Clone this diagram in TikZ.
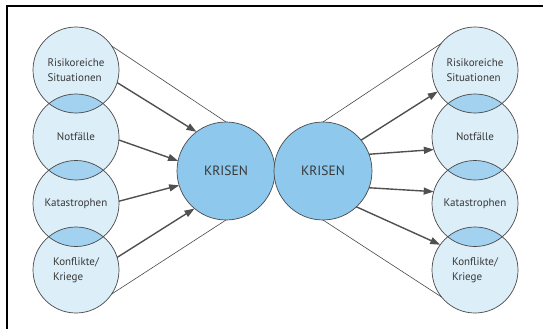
\documentclass[tikz,border=0pt]{standalone}
\usepackage{fontspec}
\setmainfont{PT Sans}
\usetikzlibrary{arrows.meta}
\definecolor{smallfill}{HTML}{DCEEF8}
\definecolor{lensfill}{HTML}{A3D2F0}
\definecolor{bigfill}{HTML}{8EC8EC}
\definecolor{edge}{HTML}{4A4A4A}
\definecolor{txt}{HTML}{383838}
\definecolor{arrowc}{HTML}{505050}
\tikzset{
  smallc/.style={circle, minimum size=86pt, inner sep=0pt, outer sep=0pt, fill=smallfill,
    font=\fontsize{11}{14.5}\selectfont, text=txt, align=left},
  bigc/.style={circle, minimum size=98pt, inner sep=0pt, outer sep=0pt, fill=bigfill, draw=edge,
    line width=0.7pt, font=\fontsize{13.5}{16}\selectfont, text=txt},
  ring/.style={draw=edge, line width=0.7pt},
  thinl/.style={draw=edge, line width=0.6pt},
  arr/.style={draw=arrowc, line width=1.4pt, -{Triangle[length=10pt,width=7pt]}},
  framel/.style={draw=black, line width=2pt}
}
\begin{document}
\begin{tikzpicture}[x=1pt,y=-1pt]
\useasboundingbox (0,0) rectangle (543,329);
\fill[white] (0,0) rectangle (543,329);
\draw[framel] (6,6) -- (543,6);
\draw[framel] (7,5) -- (7,329);
% small circles left
\node[smallc] (L1) at (76,70) {Risikoreiche\\Situationen};
\node[smallc] (L2) at (76,137) {Notfälle};
\node[smallc] (L3) at (76,203.5) {Katastrophen};
\node[smallc] (L4) at (76,270) {Konflikte/\\Kriege};
% small circles right
\node[smallc] (R1) at (475,70) {Risikoreiche\\Situationen};
\node[smallc] (R2) at (475,137) {Notfälle};
\node[smallc] (R3) at (475,203.5) {Katastrophen};
\node[smallc] (R4) at (475,270) {Konflikte/\\Kriege};
% lenses
\foreach \a/\b in {L1/L2,L2/L3,L3/L4,R1/R2,R2/R3,R3/R4}{
  \begin{scope}
    \clip (\a.center) circle (43pt);
    \fill[lensfill] (\b.center) circle (43pt);
  \end{scope}
}
% outlines
\foreach \n in {L1,L2,L3,L4,R1,R2,R3,R4}{
  \draw[ring] (\n.center) circle (43pt);
}
% big circles
\node[bigc] (K1) at (226,171) {KRISEN};
\node[bigc] (K2) at (323,171) {KRISEN};
% thin lines
\draw[thinl] (L1.34) -- (K1.north);
\draw[thinl] (L4.-34) -- (K1.south);
\draw[thinl] (K2.north) -- (R1.142);
\draw[thinl] (K2.south) -- (R4.219);
% arrows left
\draw[arr] (L1.-17) -- (K1.127);
\draw[arr] (L2.-4) -- (K1.168);
\draw[arr] (L3.3) -- (K1.197);
\draw[arr] (L4.17) -- (K1.230);
% arrows right
\draw[arr] (K2.39) -- (R1.210);
\draw[arr] (K2.20) -- (R2.197);
\draw[arr] (K2.-20) -- (R3.164);
\draw[arr] (K2.-47) -- (R4.144);
\end{tikzpicture}
\end{document}
